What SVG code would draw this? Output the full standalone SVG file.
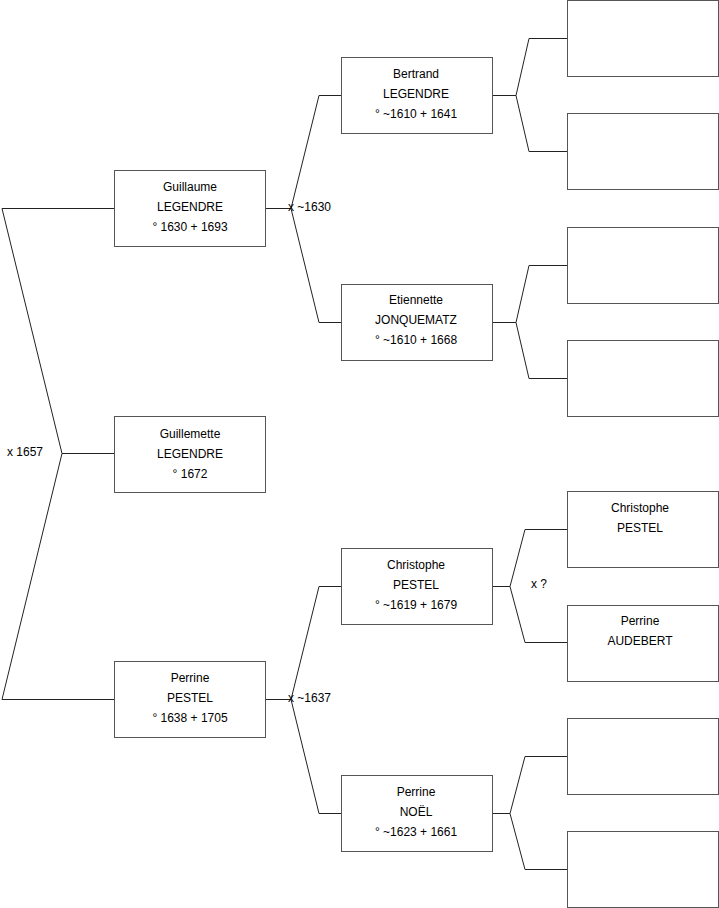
<svg xmlns="http://www.w3.org/2000/svg" width="719" height="908" viewBox="0 0 719 908">
<style>
.box{fill:#fff;stroke:#555;stroke-width:1}
.t{font-family:"Liberation Sans",Arial,sans-serif;font-size:12px;fill:#000;text-anchor:middle}
.l{font-family:"Liberation Sans",Arial,sans-serif;font-size:12px;fill:#000}
.c{fill:none;stroke:#222;stroke-width:1}
</style>
<rect width="719" height="908" fill="#fff"/>
<g id="connectors">
<polyline class="c" points="114,208.5 2,208.5 62,453.5 2,699.5 114,699.5"/>
<line class="c" x1="62" y1="453.5" x2="114" y2="453.5"/>
<polyline class="c" points="341,95.5 319,95.5 291,208.5 319,322.5 341,322.5"/>
<line class="c" x1="265" y1="208.5" x2="291" y2="208.5"/>
<polyline class="c" points="341,586.5 319,586.5 291,699.5 319,813.5 341,813.5"/>
<line class="c" x1="265" y1="699.5" x2="291" y2="699.5"/>
<polyline class="c" points="567,38.5 529,38.5 516,95.5 529,151.5 567,151.5"/>
<line class="c" x1="492" y1="95.5" x2="516" y2="95.5"/>
<polyline class="c" points="567,265.5 529,265.5 516,322.5 529,378.5 567,378.5"/>
<line class="c" x1="492" y1="322.5" x2="516" y2="322.5"/>
<polyline class="c" points="567,529.5 525,529.5 510,586.5 525,642.5 567,642.5"/>
<line class="c" x1="492" y1="586.5" x2="510" y2="586.5"/>
<polyline class="c" points="567,756.5 525,756.5 510,813.5 525,869.5 567,869.5"/>
<line class="c" x1="492" y1="813.5" x2="510" y2="813.5"/>
<text class="l" x="7" y="456">x 1657</text>
<text class="l" x="288" y="211">x ~1630</text>
<text class="l" x="288" y="702">x ~1637</text>
<text class="l" x="531" y="588">x ?</text>
</g>
<g id="guillaume"><rect class="box" x="114.5" y="170.5" width="151" height="76"/><text class="t" x="190" y="191">Guillaume</text><text class="t" x="190" y="211">LEGENDRE</text><text class="t" x="190" y="231">° 1630 + 1693</text></g>
<g id="guillemette"><rect class="box" x="114.5" y="416.5" width="151" height="76"/><text class="t" x="190" y="438">Guillemette</text><text class="t" x="190" y="458">LEGENDRE</text><text class="t" x="190" y="478">° 1672</text></g>
<g id="perrine-pestel"><rect class="box" x="114.5" y="661.5" width="151" height="76"/><text class="t" x="190" y="682">Perrine</text><text class="t" x="190" y="702">PESTEL</text><text class="t" x="190" y="722">° 1638 + 1705</text></g>
<g id="bertrand"><rect class="box" x="341.5" y="57.5" width="151" height="76"/><text class="t" x="416" y="78">Bertrand</text><text class="t" x="416" y="98">LEGENDRE</text><text class="t" x="416" y="118">° ~1610 + 1641</text></g>
<g id="etiennette"><rect class="box" x="341.5" y="284.5" width="151" height="76"/><text class="t" x="416" y="304">Etiennette</text><text class="t" x="416" y="324">JONQUEMATZ</text><text class="t" x="416" y="344">° ~1610 + 1668</text></g>
<g id="christophe"><rect class="box" x="341.5" y="548.5" width="151" height="76"/><text class="t" x="416" y="569">Christophe</text><text class="t" x="416" y="589">PESTEL</text><text class="t" x="416" y="609">° ~1619 + 1679</text></g>
<g id="perrine-noel"><rect class="box" x="341.5" y="775.5" width="151" height="76"/><text class="t" x="416" y="796">Perrine</text><text class="t" x="416" y="816">NOËL</text><text class="t" x="416" y="836">° ~1623 + 1661</text></g>
<g id="g3-1"><rect class="box" x="567.5" y="0.5" width="151" height="76"/></g>
<g id="g3-2"><rect class="box" x="567.5" y="113.5" width="151" height="76"/></g>
<g id="g3-3"><rect class="box" x="567.5" y="227.5" width="151" height="76"/></g>
<g id="g3-4"><rect class="box" x="567.5" y="340.5" width="151" height="76"/></g>
<g id="christophe-pere"><rect class="box" x="567.5" y="491.5" width="151" height="76"/><text class="t" x="640" y="512">Christophe</text><text class="t" x="640" y="532">PESTEL</text></g>
<g id="perrine-audebert"><rect class="box" x="567.5" y="605.5" width="151" height="76"/><text class="t" x="640" y="625">Perrine</text><text class="t" x="640" y="645">AUDEBERT</text></g>
<g id="g3-7"><rect class="box" x="567.5" y="718.5" width="151" height="76"/></g>
<g id="g3-8"><rect class="box" x="567.5" y="831.5" width="151" height="76"/></g>
</svg>
